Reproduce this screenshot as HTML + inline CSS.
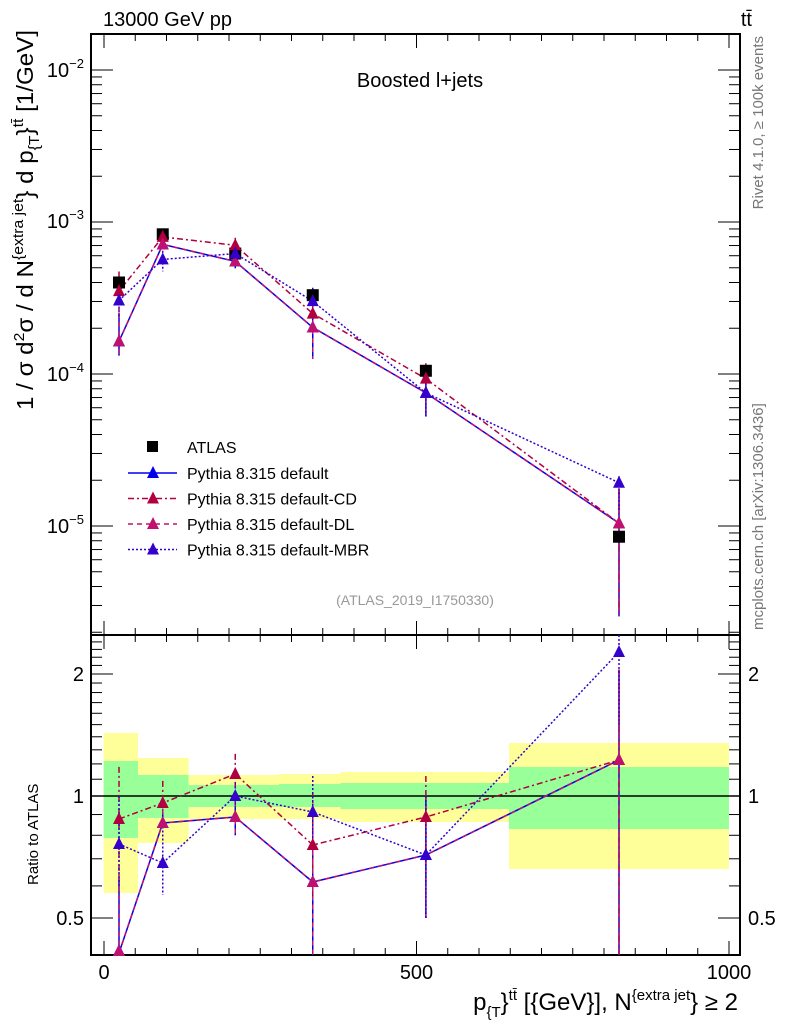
<!DOCTYPE html>
<html><head><meta charset="utf-8"><style>
body{margin:0;background:#fff}
svg{display:block;font-family:"Liberation Sans",sans-serif}
</style></head><body>
<svg id="s" width="786" height="1024" xmlns="http://www.w3.org/2000/svg"></svg>
<script>
const L=91,R=740,T=34,M=635,B=955;
const X=v=>104+v*0.625;
const YM=v=>70-152*(Math.log10(v)+2);
const YR=r=>796-122*Math.log2(r);
const RP=y=>Math.pow(2,(796-y)/122);
let o='';
const bands=[[103.6,138,733,893,761,838],[138,188.6,758,843,775,818],[188.6,279,775,819,785,807],[279,340.5,774,819,784,807],[340.5,509,772,822,783,809],[509,729,743,869,767,829]];
for(const b of bands){o+=`<rect x="${b[0]}" y="${b[2]}" width="${b[1]-b[0]}" height="${b[3]-b[2]}" fill="#ffff99"/>`;o+=`<rect x="${b[0]}" y="${b[4]}" width="${b[1]-b[0]}" height="${b[5]-b[4]}" fill="#99ff99"/>`;}
o+=`<line x1="${L}" x2="${R}" y1="796" y2="796" stroke="#000" stroke-width="1.5"/>`;
o+=`<rect x="${L}" y="${T}" width="${R-L}" height="${M-T}" fill="none" stroke="#000" stroke-width="2"/>`;
o+=`<rect x="${L}" y="${M}" width="${R-L}" height="${B-M}" fill="none" stroke="#000" stroke-width="2"/>`;
for(let v=0;v<=1000;v+=50){const x=X(v),big=v%500==0?14:7;
o+=`<line x1="${x}" x2="${x}" y1="${T}" y2="${T+big}" stroke="#000"/><line x1="${x}" x2="${x}" y1="${M}" y2="${M-big}" stroke="#000"/><line x1="${x}" x2="${x}" y1="${M}" y2="${M+big}" stroke="#000"/><line x1="${x}" x2="${x}" y1="${B}" y2="${B-big}" stroke="#000"/>`;}
for(let e=-6;e<=-2;e++)for(let m=1;m<10;m++){const y=YM(m*Math.pow(10,e));if(y<T||y>M)continue;const w=m==1?22:11;
o+=`<line x1="${L}" x2="${L+w}" y1="${y}" y2="${y}" stroke="#000"/><line x1="${R}" x2="${R-w}" y1="${y}" y2="${y}" stroke="#000"/>`;}
[['−2',70],['−3',221],['−4',374],['−5',526]].forEach(([e,y])=>{o+=`<text x="84" y="${y+7}" font-size="20" text-anchor="end">10<tspan dy="-9" font-size="13">${e}</tspan></text>`;});
for(let r=0.4;r<=2.5;r+=0.1){const y=YR(r);if(y<M||y>B)continue;const big=Math.abs(r-0.5)<1e-6||Math.abs(r-1)<1e-6||Math.abs(r-2)<1e-6;const w=big?22:11;
o+=`<line x1="${L}" x2="${L+w}" y1="${y}" y2="${y}" stroke="#000"/><line x1="${R}" x2="${R-w}" y1="${y}" y2="${y}" stroke="#000"/>`;}
[[2,'2'],[1,'1'],[0.5,'0.5']].forEach(([r,t])=>{const y=YR(r)+7;o+=`<text x="84" y="${y}" font-size="20" text-anchor="end">${t}</text><text x="748" y="${y}" font-size="20">${t}</text>`;});
[[0,'0'],[500,'500'],[1000,'1000']].forEach(([v,t])=>{o+=`<text x="${X(v)}" y="979" font-size="20" text-anchor="middle">${t}</text>`;});
const xs=[24,94,210,334,515,824];
const atl=[4.0e-4,8.3e-4,6.2e-4,3.3e-4,1.05e-4,8.5e-6];
const pd=[953,823,817,882,855,760], pc=[819,803,774,845,817,760], pm=[844,863,796,812,855,652];
const ser=[
 {c:'#0000ee',d:'',y:pd,e:[[0.33,0.63],[0.85,0.93],[0.8,1.02],[0.38,0.9],[0.5,1.0],[0.3,2.05]]},
 {c:'#b00040',d:'6,3,2,3',y:pc,e:[[0.63,1.18],[0.84,1.09],[1.0,1.27],[0.57,1.02],[0.7,1.12],[0.3,2.05]]},
 {c:'#c01070',d:'5,4',y:pd,e:[[0.33,0.63],[0.85,0.93],[0.8,1.02],[0.38,0.9],[0.5,1.0],[0.3,2.05]]},
 {c:'#3300cc',d:'2,2',y:pm,e:[[0.6,1.0],[0.57,0.88],[0.93,1.08],[0.75,1.12],[0.5,1.0],[1.5,2.5]]}];
function tri(x,y,c){return `<path d="M${x-6},${y+5}L${x+6},${y+5}L${x},${y-7}Z" fill="${c}"/>`;}
function clip(v,a,b){return Math.max(a,Math.min(b,v));}
for(const s of ser){let p=[];xs.forEach((v,i)=>{const val=RP(s.y[i])*atl[i];p.push(X(v)+','+YM(val));
 o+=`<line x1="${X(v)}" x2="${X(v)}" y1="${YM(s.e[i][1]*atl[i])}" y2="${clip(YM(s.e[i][0]*atl[i]),T,M)}" stroke="${s.c}" stroke-width="1.5" stroke-dasharray="${s.d}"/>`;});
 o+=`<polyline points="${p.join(' ')}" fill="none" stroke="${s.c}" stroke-width="1.5" stroke-dasharray="${s.d}"/>`;}
xs.forEach((v,i)=>{o+=`<rect x="${X(v)-6}" y="${YM(atl[i])-6}" width="12" height="12" fill="#000"/>`;});
for(const s of ser){xs.forEach((v,i)=>{o+=tri(X(v),YM(RP(s.y[i])*atl[i]),s.c);});}
for(const s of ser){let p=[];xs.forEach((v,i)=>{const y=clip(s.y[i],M,B);p.push(X(v)+','+y);
 o+=`<line x1="${X(v)}" x2="${X(v)}" y1="${clip(YR(s.e[i][1]),M,B)}" y2="${clip(YR(s.e[i][0]),M,B)}" stroke="${s.c}" stroke-width="1.5" stroke-dasharray="${s.d}"/>`;});
 o+=`<polyline points="${p.join(' ')}" fill="none" stroke="${s.c}" stroke-width="1.5" stroke-dasharray="${s.d}"/>`;}
for(const s of ser){xs.forEach((v,i)=>{o+=tri(X(v),clip(s.y[i],M,B-4),s.c);});}
o+=`<rect x="147" y="441" width="11" height="11" fill="#000"/><text x="187" y="453" font-size="16">ATLAS</text>`;
const names=['Pythia 8.315 default','Pythia 8.315 default-CD','Pythia 8.315 default-DL','Pythia 8.315 default-MBR'];
ser.forEach((s,i)=>{const y=473+i*25.5;o+=`<line x1="128" x2="177" y1="${y}" y2="${y}" stroke="${s.c}" stroke-width="1.5" stroke-dasharray="${s.d}"/>`+tri(153,y,s.c)+`<text x="187" y="${y+6}" font-size="16">${names[i]}</text>`;});
o+=`<text x="415" y="605" font-size="14" fill="#999" text-anchor="middle">(ATLAS_2019_I1750330)</text>`;
o+=`<text x="420" y="87" font-size="20" text-anchor="middle">Boosted l+jets</text>`;
o+=`<text x="103" y="26" font-size="20">13000 GeV pp</text>`;
o+=`<text x="752" y="26" font-size="20" text-anchor="end">tt̄</text>`;
o+=`<text transform="translate(763,36) rotate(-90)" font-size="15" fill="#777" text-anchor="end">Rivet 4.1.0, ≥ 100k events</text>`;
o+=`<text transform="translate(763,630) rotate(-90)" font-size="15" fill="#777">mcplots.cern.ch [arXiv:1306.3436]</text>`;
o+=`<text transform="translate(33,410) rotate(-90)" font-size="23" textLength="380" lengthAdjust="spacingAndGlyphs">1 / σ d<tspan dy="-9" font-size="15">2</tspan><tspan dy="9">σ / d N</tspan><tspan dy="-10" font-size="15">{extra jet</tspan><tspan dy="10">} d p</tspan><tspan dy="6" font-size="15">{T</tspan><tspan dy="-6">}</tspan><tspan dy="-10" font-size="15">tt̄</tspan><tspan dy="10"> [1/GeV]</tspan></text>`;
o+=`<text transform="translate(38,885) rotate(-90)" font-size="15">Ratio to ATLAS</text>`;
o+=`<text x="738" y="1010" font-size="24" text-anchor="end">p<tspan dy="7" font-size="15">{T</tspan><tspan dy="-7">}</tspan><tspan dy="-10" font-size="15">tt̄</tspan><tspan dy="10"> [{GeV}], N</tspan><tspan dy="-10" font-size="15">{extra jet</tspan><tspan dy="10">} ≥ 2</tspan></text>`;
document.getElementById('s').innerHTML=o;
</script>
</body></html>
